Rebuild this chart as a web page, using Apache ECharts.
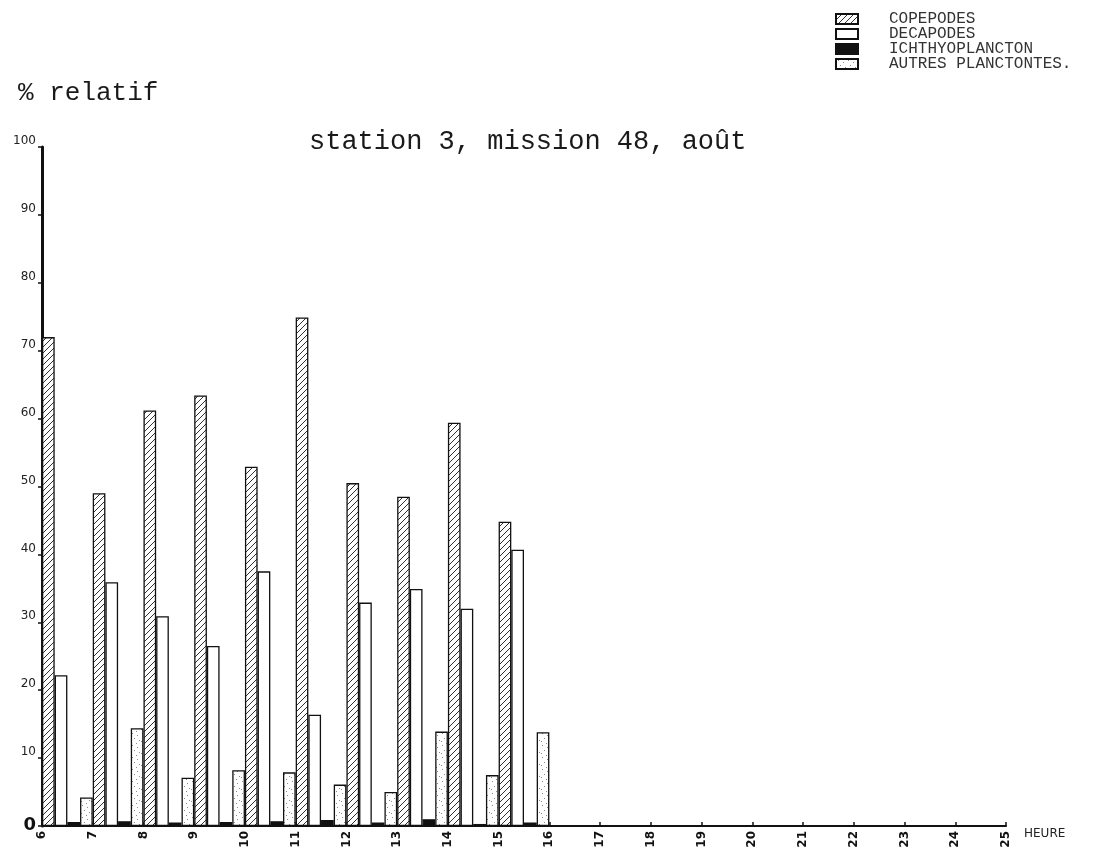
<!DOCTYPE html>
<html>
<head>
<meta charset="utf-8">
<title>station 3, mission 48, août</title>
<script src="https://cdn.jsdelivr.net/npm/echarts@6/dist/echarts.min.js"></script>
<style>
  html, body { margin: 0; padding: 0; background: #ffffff; }
  #chart { width: 1110px; height: 855px; }
</style>
</head>
<body>
<div id="chart"></div>
<script>
// Hourly bands of the sampling day (one band per hour, from the hour tick to the next)
const bandHours = ['6','7','8','9','10','11','12','13','14','15','16','17','18','19','20','21','22','23','24'];
// Hour ticks along the time axis
const hourTicks = { min: 6, max: 25, step: 1 };
// Relative abundance (%) for each sampled hour, 6 h to 15 h
const copepodes = [72.0, 49.0, 61.2, 63.4, 52.9, 74.9, 50.5, 48.5, 59.4, 44.8];
const decapodes = [22.2, 35.9, 30.9, 26.5, 37.5, 16.4, 32.9, 34.9, 32.0, 40.7];
const ichthyoplancton = [0.6, 0.7, 0.5, 0.6, 0.7, 0.9, 0.5, 1.0, 0.3, 0.5];
const autres = [4.2, 14.4, 7.1, 8.2, 7.9, 6.1, 5.0, 13.9, 7.5, 13.8];
// Series names as written in the key
const seriesNames = ['COPEPODES', 'DECAPODES', 'ICHTHYOPLANCTON', 'AUTRES PLANCTONTES.'];

// Pad a series so it covers every hourly band
function padToBands(values) {
  return bandHours.map((h, i) => (i < values.length ? values[i] : null));
}

// Diagonal hatching used for the copepods
function hatchPattern() {
  const c = document.createElement('canvas');
  c.width = 6; c.height = 6;
  const g = c.getContext('2d');
  g.fillStyle = '#ffffff';
  g.fillRect(0, 0, 6, 6);
  g.strokeStyle = '#1a1a1a';
  g.lineWidth = 0.9;
  g.beginPath();
  g.moveTo(0, 6); g.lineTo(6, 0);
  g.moveTo(-1, 1); g.lineTo(1, -1);
  g.moveTo(5, 7); g.lineTo(7, 5);
  g.stroke();
  return { image: c, repeat: 'repeat' };
}

// Light stipple used for the other plankton
function stipplePattern() {
  const c = document.createElement('canvas');
  c.width = 10; c.height = 12;
  const g = c.getContext('2d');
  g.fillStyle = '#ffffff';
  g.fillRect(0, 0, 10, 12);
  g.fillStyle = '#8a8a8a';
  [[2, 1], [7, 3], [4, 6], [9, 8], [1, 9], [6, 11]].forEach(p => g.fillRect(p[0], p[1], 1, 1));
  return { image: c, repeat: 'repeat' };
}

const chart = echarts.init(document.getElementById('chart'), null, { renderer: 'canvas' });

const barBase = {
  type: 'bar',
  xAxisIndex: 0,
  yAxisIndex: 0,
  barGap: '0%',
  barCategoryGap: '0%',
  animation: false
};

chart.setOption({
  backgroundColor: '#ffffff',
  animation: false,
  title: {
    text: 'station 3, mission 48, août',
    left: 304,
    top: 123,
    textStyle: { fontFamily: 'Liberation Mono', fontSize: 27, fontWeight: 'normal', color: '#1a1a1a' }
  },
  legend: {
    orient: 'vertical',
    left: 830,
    top: 6,
    icon: 'rect',
    itemWidth: 22,
    itemHeight: 10,
    itemGap: -1,
    selectedMode: false,
    data: seriesNames,
    textStyle: {
      fontFamily: 'Liberation Mono',
      fontSize: 16,
      color: '#333333',
      padding: [0, 0, 0, 26]
    }
  },
  graphic: [
    {
      type: 'text',
      left: 18,
      top: 80,
      style: { text: '% relatif', font: '26px "Liberation Mono"', fill: '#1a1a1a' }
    },
    {
      type: 'text',
      left: 1024,
      top: 828,
      style: { text: 'HEURE', font: '12px "DejaVu Sans"', fill: '#222222' }
    }
  ],
  grid: { left: 42, right: 104, top: 147, bottom: 29, containLabel: false },
  xAxis: [
    {
      type: 'category',
      data: bandHours,
      position: 'top',
      boundaryGap: true,
      show: false
    },
    {
      type: 'value',
      position: 'bottom',
      min: hourTicks.min,
      max: hourTicks.max,
      interval: hourTicks.step,
      axisLine: { show: true, onZero: false, lineStyle: { color: '#111111', width: 2 } },
      axisTick: { show: true, inside: true, length: 4, lineStyle: { color: '#111111', width: 1.5 } },
      splitLine: { show: false },
      axisLabel: {
        rotate: 90,
        margin: 5,
        fontFamily: 'DejaVu Sans',
        fontWeight: 'bold',
        fontSize: 12,
        color: '#111111'
      }
    }
  ],
  yAxis: {
    type: 'value',
    min: 0,
    max: 100,
    interval: 10,
    axisLine: { show: true, lineStyle: { color: '#111111', width: 3 } },
    axisTick: { show: true, length: 4, lineStyle: { color: '#111111', width: 1.5 } },
    splitLine: { show: false },
    axisLabel: {
      margin: 6,
      verticalAlign: 'bottom',
      fontFamily: 'DejaVu Sans',
      fontSize: 12,
      color: '#222222',
      formatter: v => (v === 0 ? '{zero|0}' : String(v)),
      rich: {
        zero: { fontFamily: 'DejaVu Sans', fontWeight: 'bold', fontSize: 18, color: '#111111', padding: [0, 0, -8, 0] }
      }
    }
  },
  series: [
    Object.assign({}, barBase, {
      name: seriesNames[0],
      data: padToBands(copepodes),
      itemStyle: { color: hatchPattern(), borderColor: '#111111', borderWidth: 1.3 }
    }),
    Object.assign({}, barBase, {
      name: seriesNames[1],
      data: padToBands(decapodes),
      itemStyle: { color: '#ffffff', borderColor: '#111111', borderWidth: 1.3 }
    }),
    Object.assign({}, barBase, {
      name: seriesNames[2],
      data: padToBands(ichthyoplancton),
      itemStyle: { color: '#111111', borderColor: '#111111', borderWidth: 1.3 }
    }),
    Object.assign({}, barBase, {
      name: seriesNames[3],
      data: padToBands(autres),
      itemStyle: { color: stipplePattern(), borderColor: '#111111', borderWidth: 1.3 }
    })
  ]
});
</script>
</body>
</html>
